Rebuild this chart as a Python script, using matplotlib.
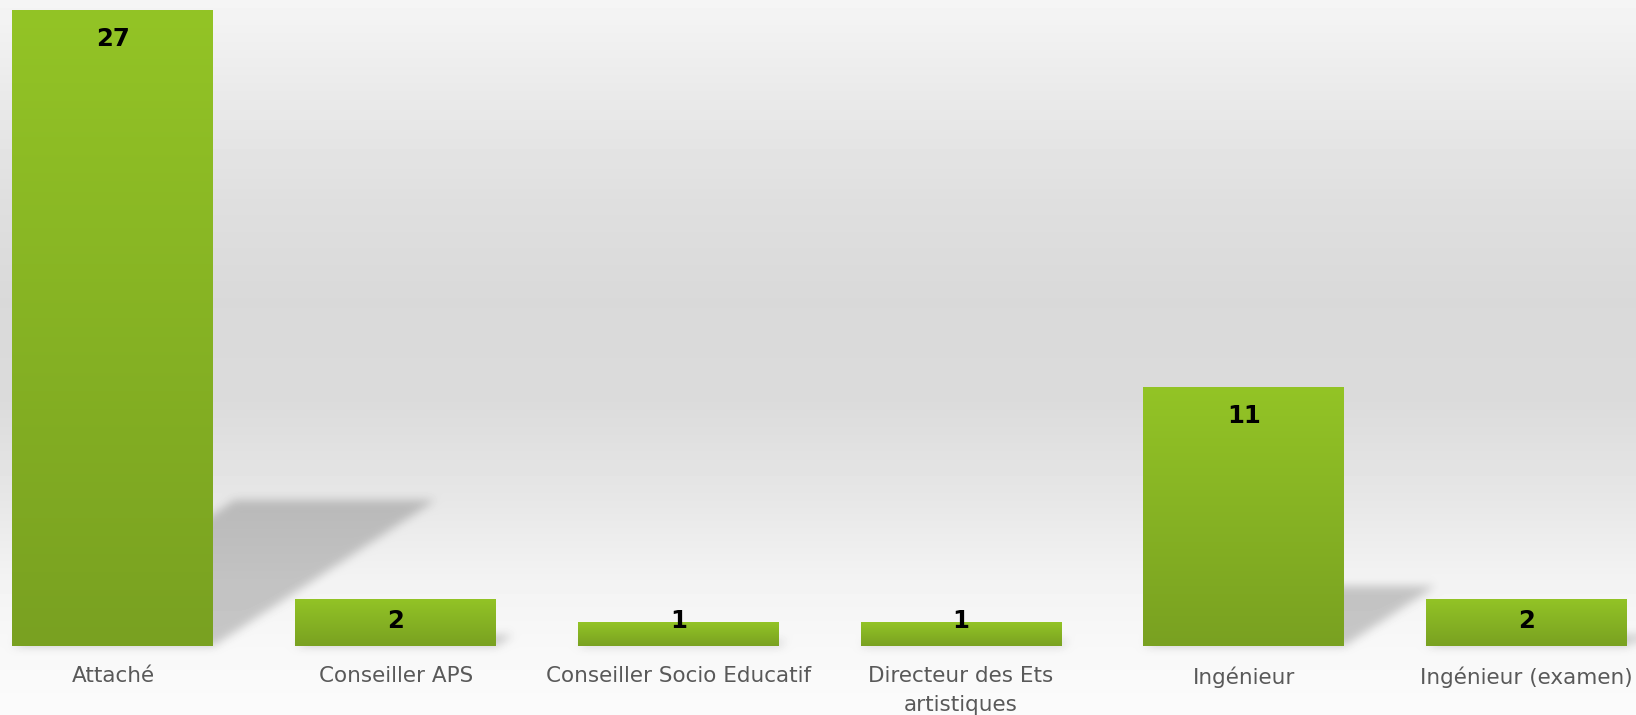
import numpy as np
import matplotlib
matplotlib.use("Agg")
import matplotlib.pyplot as plt
from matplotlib.colors import LinearSegmentedColormap
from matplotlib.path import Path

categories = ["Attaché", "Conseiller APS", "Conseiller Socio Educatif",
              "Directeur des Ets\nartistiques", "Ingénieur", "Ingénieur (examen)"]
values = [27, 2, 1, 1, 11, 2]

W, H = 1636, 715
fig = plt.figure(figsize=(W / 100, H / 100), dpi=100)
bg_ax = fig.add_axes([0, 0, 1, 1], zorder=0)
bg_ax.set_axis_off()
ax = fig.add_axes([0, 69 / H, 1, 646 / H], zorder=1)
ax.patch.set_alpha(0)
for s in ax.spines.values():
    s.set_visible(False)

x = np.arange(len(categories))
XL = (-0.3997, -0.3997 + 1636 / 282.7)
YL = (0, 27.42)
ax.set_xlim(*XL)
ax.set_ylim(*YL)

bar_w = 0.711
bars = ax.bar(x, values, width=bar_w, color="none", edgecolor="none", zorder=2)
green = LinearSegmentedColormap.from_list("g", ["#93c426", "#79a121"])
grad = np.linspace(0, 1, 256).reshape(-1, 1)
for b in bars:
    x0, y0 = b.get_x(), b.get_y()
    im = ax.imshow(grad, extent=(x0, x0 + b.get_width(), y0, y0 + b.get_height()),
                   cmap=green, aspect="auto", origin="upper", zorder=2,
                   interpolation="bilinear")
    im.set_clip_path(b)
ax.set_xlim(*XL)
ax.set_ylim(*YL)

# background gradient + perspective shadows
rows = np.arange(H)
gy = [0, 100, 200, 300, 400, 500, 580, 646, 715]
gv = [245, 233, 223, 217, 219, 231, 243, 248, 251]
bgcol = np.interp(rows, gy, gv) / 255.0
img = np.repeat(bgcol[:, None], W, axis=1)

fig.canvas.draw()
T = ax.transData
yy, xx = np.mgrid[0:H, 0:W]
pts = np.column_stack([xx.ravel() + 0.5, (H - yy.ravel() - 0.5)])
mask = np.zeros(H * W)
for b in bars:
    (lx, by), (rx, ty) = T.transform([(b.get_x(), 0), (b.get_x() + b.get_width(), b.get_height())])
    h = ty - by
    k, sk = 0.23, 0.35
    poly = Path([(lx, by), (rx, by), (rx + sk * h, by + k * h), (lx + sk * h, by + k * h), (lx, by)])
    mask = np.maximum(mask, poly.contains_points(pts).astype(float))
mask = mask.reshape(H, W)

def box(a, r, axis):
    c = np.cumsum(np.pad(a, [(r + 1, r) if i == axis else (0, 0) for i in range(2)], mode="edge"), axis=axis)
    if axis == 0:
        return (c[2 * r + 1:] - c[:-2 * r - 1]) / (2 * r + 1)
    return (c[:, 2 * r + 1:] - c[:, :-2 * r - 1]) / (2 * r + 1)

for _ in range(3):
    mask = box(mask, 4, 0)
    mask = box(mask, 4, 1)
img = img * (1 - 0.2 * mask)
bg_ax.imshow(img, extent=(0, W, 0, H), cmap="gray", vmin=0, vmax=1, aspect="auto", origin="upper")
bg_ax.set_xlim(0, W)
bg_ax.set_ylim(0, H)

# value labels
ppu = 646 / (YL[1] - YL[0])
for xi, v in zip(x, values):
    yc = max(v - 27 / ppu, 28 / ppu)
    ax.text(xi, yc, str(v), ha="center", va="center_baseline", fontsize=17.5,
            fontweight="bold", color="black", zorder=5)

ax.set_xticks(x, categories)
ax.tick_params(axis="x", length=0, pad=14.5, labelsize=15.5, labelcolor="#595959")
ax.set_yticks([])
for t in ax.get_xticklabels():
    t.set_linespacing(1.58)

fig.savefig("out.png", dpi=100)
